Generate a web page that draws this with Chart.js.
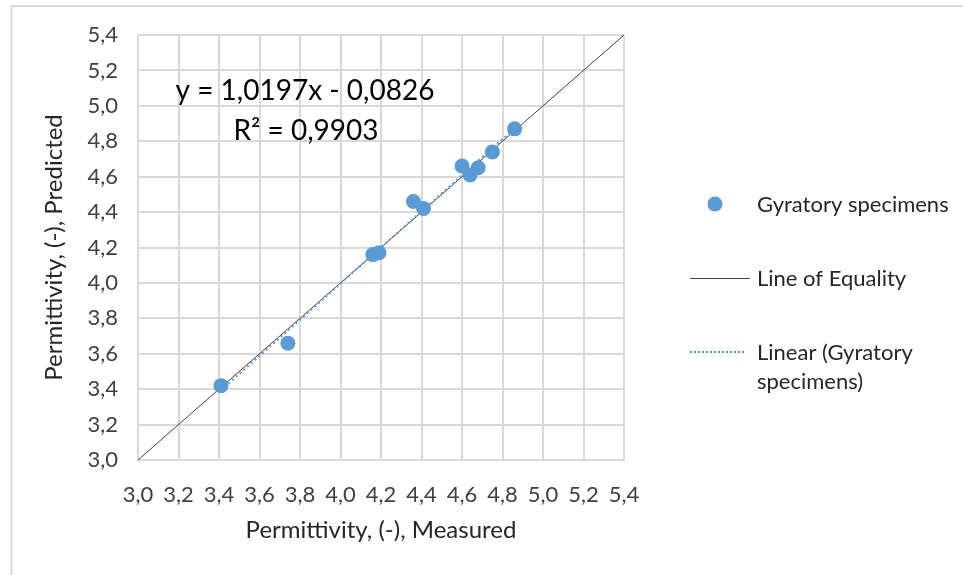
<!DOCTYPE html>
<html>
<head>
<meta charset="utf-8">
<script src="https://cdn.jsdelivr.net/npm/chart.js@4"></script>
<style>
  html, body { margin: 0; padding: 0; background: #fff; }
  #wrap { width: 963px; height: 575px; }
</style>
</head>
<body>
<div id="wrap"><canvas id="permChart" width="963" height="575"></canvas></div>
<script>
// Permittivity: measured vs predicted
const measured = [3.41, 3.74, 4.16, 4.19, 4.36, 4.41, 4.60, 4.64, 4.68, 4.75, 4.86];
const predicted = [3.42, 3.66, 4.16, 4.17, 4.46, 4.42, 4.66, 4.61, 4.65, 4.74, 4.87];
const equalityLine = [3.0, 5.4];
const trendSlope = 1.0197;
const trendIntercept = -0.0826;
const equationLabel = 'y = 1,0197x - 0,0826';
const r2Label = 'R² = 0,9903';
const seriesNames = ['Gyratory specimens', 'Line of Equality', ['Linear (Gyratory', 'specimens)']];

const FONT = 'Lato, "Open Sans", sans-serif';
const BLUE = '#5b9bd5';

const xMin = Math.min(...measured), xMax = Math.max(...measured);
const trendPoints = [xMin, xMax].map(x => ({ x: x, y: trendSlope * x + trendIntercept }));

const comma = v => Number(v).toFixed(1).replace('.', ',');

// equation text, legend and outer frame drawn by hand
const extras = {
  id: 'extras',
  beforeDraw(chart) {
    const c = chart.ctx;
    c.save();
    c.strokeStyle = '#d9d9d9';
    c.lineWidth = 2;
    c.beginPath();
    c.moveTo(963, 6);
    c.lineTo(11.5, 6);
    c.lineTo(11.5, 575);
    c.stroke();
    c.restore();
  },
  afterDraw(chart) {
    const c = chart.ctx;
    c.save();
    c.fillStyle = '#000';
    c.textAlign = 'center';
    c.textBaseline = 'middle';
    c.font = '28px ' + FONT;
    c.fillText(equationLabel, 305, 91);
    c.fillText(r2Label, 306, 131);

    c.font = '22px ' + FONT;
    c.textAlign = 'left';
    // marker
    c.fillStyle = BLUE;
    c.beginPath();
    c.arc(715, 204, 7.5, 0, Math.PI * 2);
    c.fill();
    c.fillStyle = '#262626';
    c.fillText(seriesNames[0], 757, 205);
    // equality
    c.strokeStyle = '#404040';
    c.lineWidth = 1;
    c.beginPath();
    c.moveTo(690, 278.5);
    c.lineTo(750, 278.5);
    c.stroke();
    c.fillText(seriesNames[1], 757, 279);
    // trend
    c.strokeStyle = BLUE;
    c.lineWidth = 2;
    c.setLineDash([2, 2]);
    c.beginPath();
    c.moveTo(690, 352);
    c.lineTo(746, 352);
    c.stroke();
    c.setLineDash([]);
    c.fillText(seriesNames[2][0], 757, 353);
    c.fillText(seriesNames[2][1], 757, 382);
    c.restore();
  }
};

const ctx = document.getElementById('permChart').getContext('2d');
const permChart = new Chart(ctx, {
  type: 'scatter',
  data: {
    datasets: [
      {
        label: seriesNames[0],
        data: measured.map((x, i) => ({ x: x, y: predicted[i] })),
        backgroundColor: BLUE,
        borderColor: BLUE,
        pointRadius: 7.5,
        pointBorderWidth: 0,
        order: 1
      },
      {
        label: seriesNames[1],
        type: 'line',
        data: equalityLine.map(v => ({ x: v, y: v })),
        borderColor: '#404040',
        borderWidth: 1,
        pointRadius: 0,
        fill: false,
        order: 3
      },
      {
        label: 'Linear (Gyratory specimens)',
        type: 'line',
        data: trendPoints,
        borderColor: BLUE,
        borderWidth: 2,
        borderDash: [2, 3],
        pointRadius: 0,
        fill: false,
        order: 2
      }
    ]
  },
  options: {
    responsive: false,
    animation: false,
    layout: { padding: { top: 35, right: 339, left: 0, bottom: 30 } },
    plugins: {
      legend: { display: false },
      tooltip: { enabled: false }
    },
    scales: {
      x: {
        type: 'linear',
        min: 3.0,
        max: 5.4,
        ticks: {
          stepSize: 0.2,
          padding: 22,
          color: '#404040',
          font: { family: FONT, size: 22 },
          callback: v => comma(v)
        },
        grid: { color: '#d9d9d9', lineWidth: 2, drawTicks: false },
        border: { color: '#d9d9d9', width: 2 },
        title: {
          display: true,
          text: 'Permittivity, (-), Measured',
          color: '#262626',
          font: { family: FONT, size: 24 },
          padding: { top: 4, bottom: 0 }
        },
        afterFit: s => { s.height = 85; }
      },
      y: {
        type: 'linear',
        min: 3.0,
        max: 5.4,
        ticks: {
          stepSize: 0.2,
          padding: 20,
          color: '#404040',
          font: { family: FONT, size: 22 },
          callback: v => comma(v)
        },
        grid: { color: '#d9d9d9', lineWidth: 2, drawTicks: false },
        border: { color: '#d9d9d9', width: 2 },
        title: {
          display: true,
          text: 'Permittivity, (-), Predicted',
          color: '#262626',
          font: { family: FONT, size: 24 },
          padding: { top: 40, bottom: 0 }
        },
        afterFit: s => { s.width = 138; }
      }
    }
  },
  plugins: [extras]
});
</script>
</body>
</html>
